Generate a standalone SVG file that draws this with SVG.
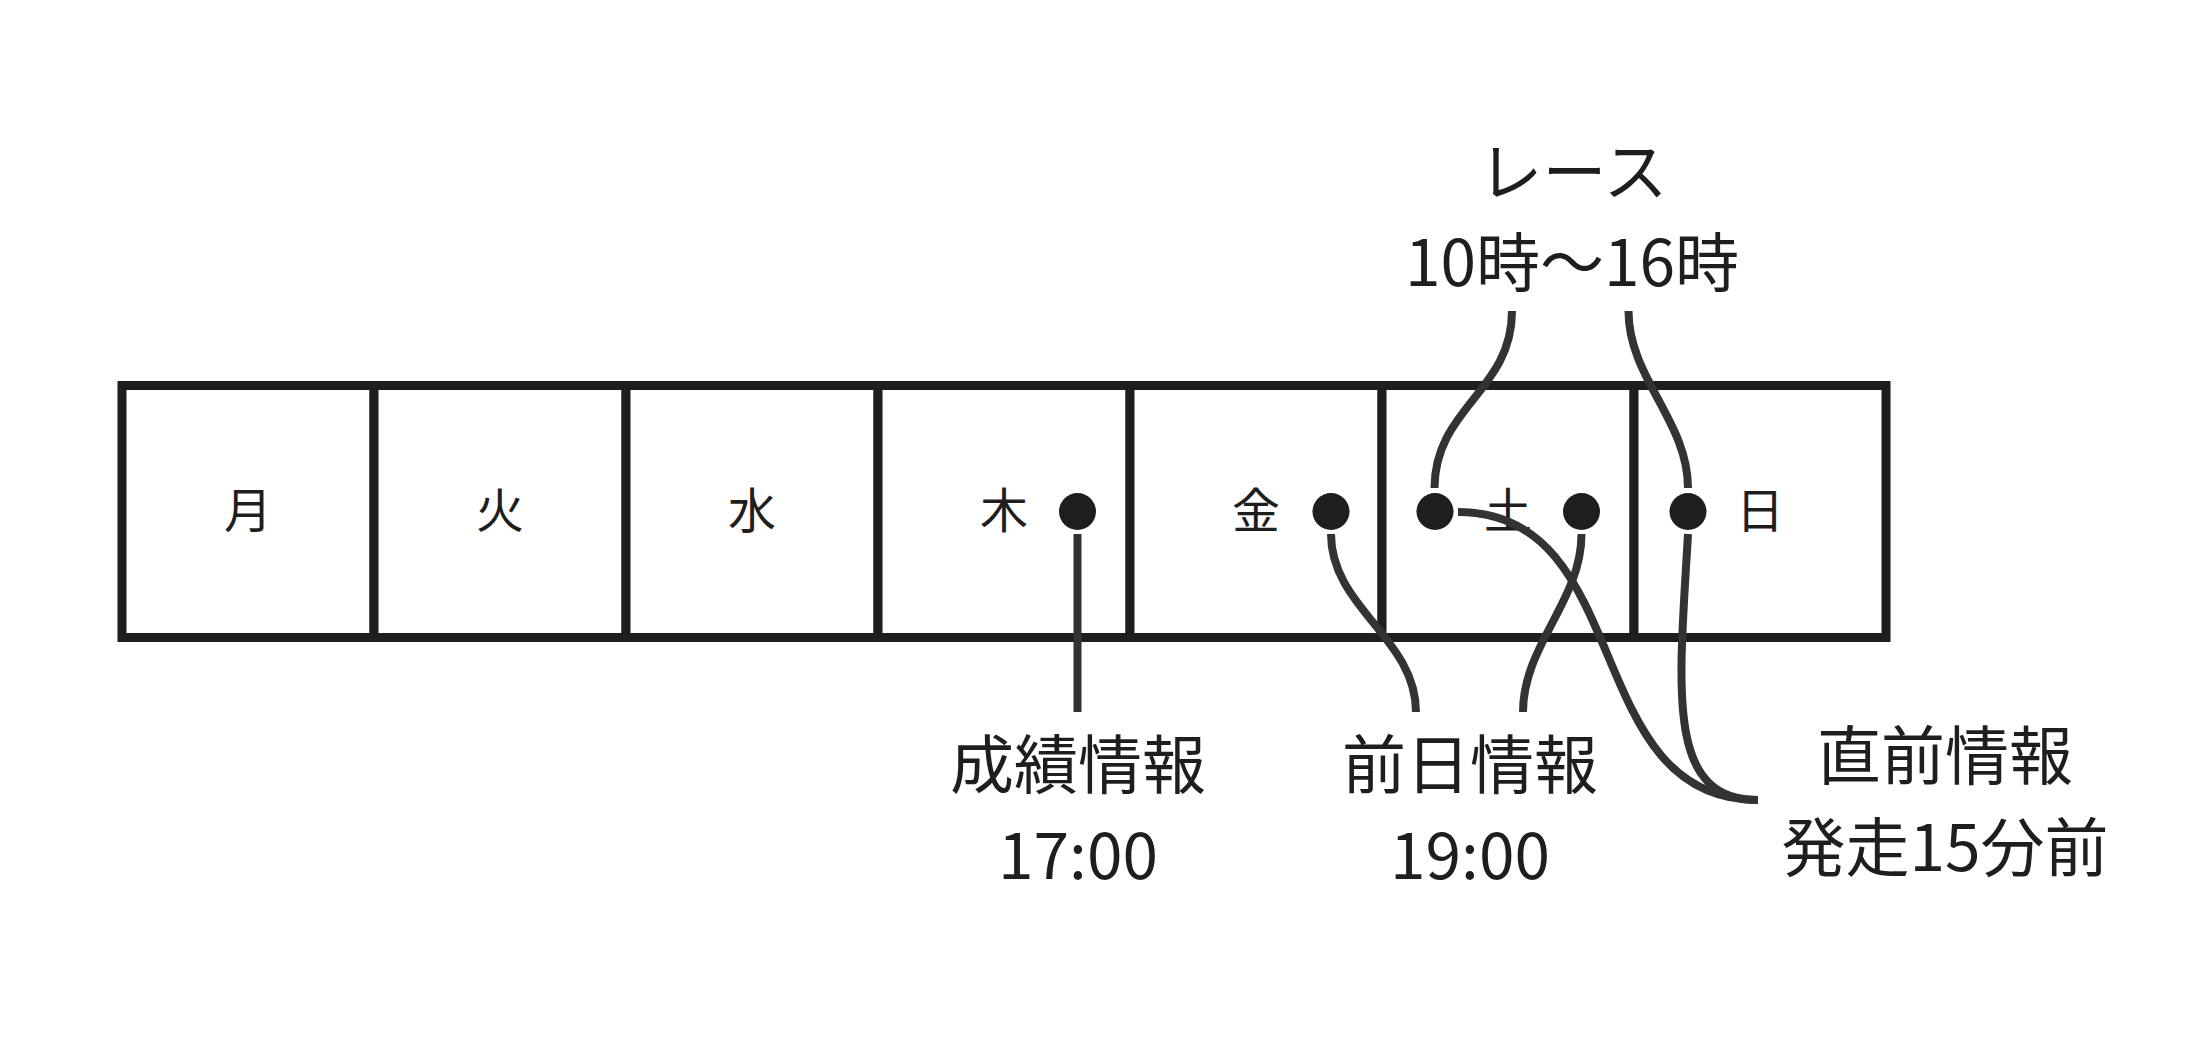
<svg xmlns="http://www.w3.org/2000/svg" width="2196" height="1062" viewBox="0 0 2196 1062">
<style>
.box{fill:#ffffff;stroke:#1e1e1e;stroke-width:9}
.day{font-family:"Noto Sans CJK JP","Noto Sans",sans-serif;font-size:48px;fill:#1e1e1e;text-anchor:middle}
.lbl{font-family:"Noto Sans CJK JP","Noto Sans",sans-serif;font-size:64px;fill:#1e1e1e;text-anchor:middle}
.dot{fill:#1e1e1e}
.conn{fill:none;stroke:#333333;stroke-width:8;stroke-linecap:butt}
</style>
<rect x="0" y="0" width="2196" height="1062" fill="#ffffff"/>
<g id="days">
<g id="mon"><rect class="box" x="122" y="385.5" width="252" height="252"/><text class="day" x="248" y="528">月</text></g>
<g id="tue"><rect class="box" x="374" y="385.5" width="252" height="252"/><text class="day" x="500" y="528">火</text></g>
<g id="wed"><rect class="box" x="626" y="385.5" width="252" height="252"/><text class="day" x="752" y="528">水</text></g>
<g id="thu"><rect class="box" x="878" y="385.5" width="252" height="252"/><text class="day" x="1004" y="528">木</text></g>
<g id="fri"><rect class="box" x="1130" y="385.5" width="252" height="252"/><text class="day" x="1256" y="528">金</text></g>
<g id="sat"><rect class="box" x="1382" y="385.5" width="252" height="252"/><text class="day" x="1508" y="528">土</text></g>
<g id="sun"><rect class="box" x="1634" y="385.5" width="252" height="252"/><text class="day" x="1760" y="528">日</text></g>
</g>
<g id="points">
<circle id="dot-thu" class="dot" cx="1077.5" cy="511.5" r="18.5"/>
<circle id="dot-fri" class="dot" cx="1331" cy="511.5" r="18.5"/>
<circle id="dot-sat-race" class="dot" cx="1435" cy="511.5" r="18.5"/>
<circle id="dot-sat" class="dot" cx="1581.5" cy="511.5" r="18.5"/>
<circle id="dot-sun" class="dot" cx="1688" cy="511.5" r="18.5"/>
</g>
<g id="connectors">
<path class="conn" d="M1077.5,534 L1077.5,712"/>
<path class="conn" d="M1331,534 C1331,608 1416,638 1416,712"/>
<path class="conn" d="M1581.5,534 C1581.5,601 1523,645 1523,712"/>
<path class="conn" d="M1512,311 C1512,391 1434.5,408 1434.5,488"/>
<path class="conn" d="M1628.5,311 C1628.5,378 1688,421 1688,488"/>
<path class="conn" d="M1458,512 C1637,512 1579,800 1758,800"/>
<path class="conn" d="M1688,534 C1679,690 1665,800 1758,800"/>
</g>
<g id="label-race"><text class="lbl" x="1573" y="194.5">レース</text><text class="lbl" x="1572" y="286">10時〜16時</text></g>
<g id="label-result"><text class="lbl" x="1078" y="787.5">成績情報</text><text class="lbl" x="1078" y="879">17:00</text></g>
<g id="label-prev"><text class="lbl" x="1470" y="787.5">前日情報</text><text class="lbl" x="1470" y="879">19:00</text></g>
<g id="label-direct"><text class="lbl" x="1945" y="779">直前情報</text><text class="lbl" x="1945" y="871">発走15分前</text></g>
</svg>
